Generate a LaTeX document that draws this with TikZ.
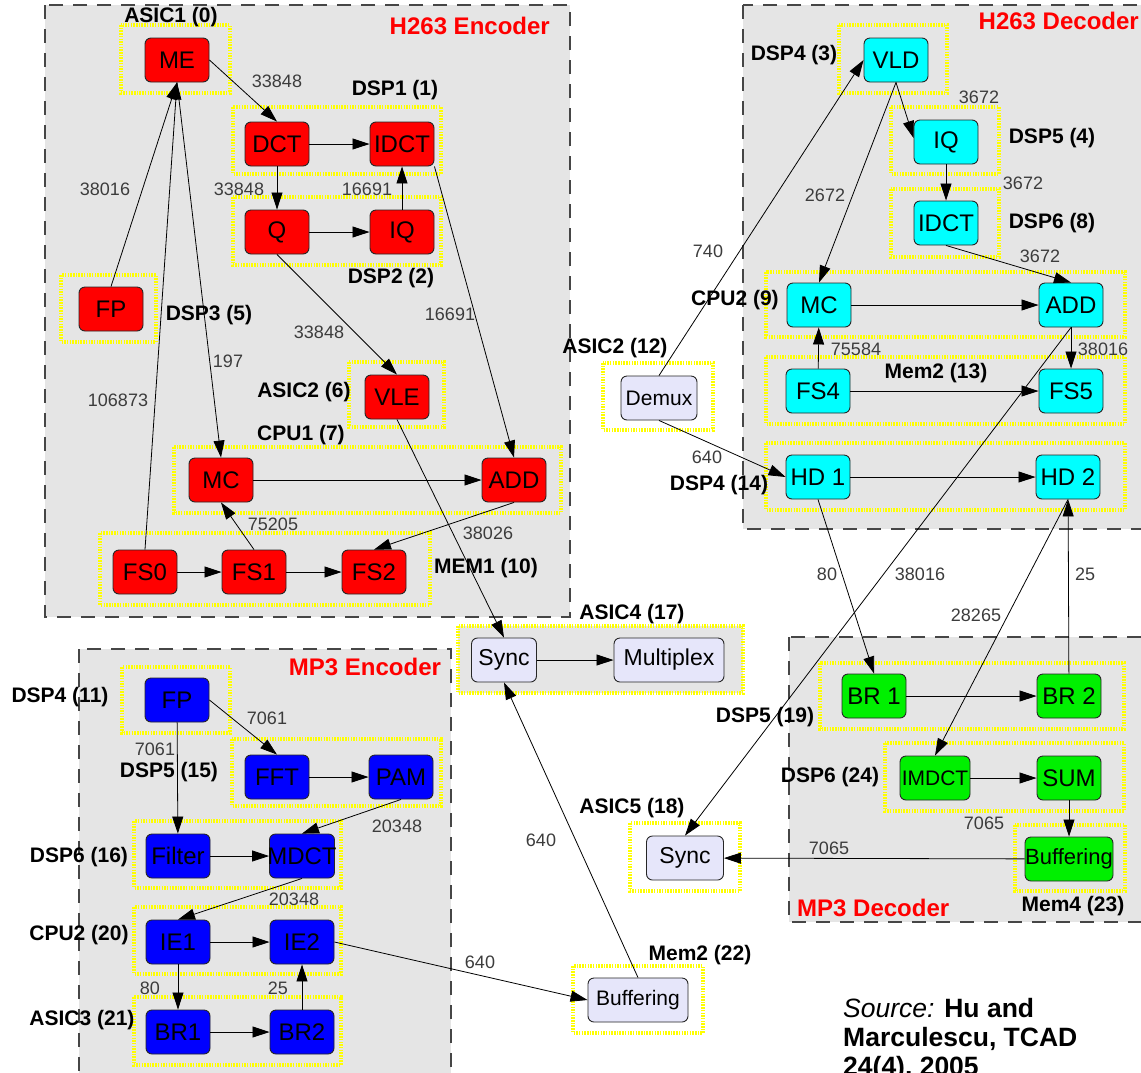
\documentclass[tikz,border=0pt]{standalone}
\usepackage{fontspec}
\setmainfont{Liberation Sans}
\usetikzlibrary{arrows.meta}
\definecolor{regiongray}{RGB}{229,229,229}
\definecolor{dashgray}{RGB}{70,70,70}
\definecolor{clusteryellow}{RGB}{255,255,0}
\definecolor{nodered}{RGB}{255,0,0}
\definecolor{nodecyan}{RGB}{0,255,255}
\definecolor{nodeblue}{RGB}{0,0,255}
\definecolor{nodegreen}{RGB}{0,240,0}
\definecolor{nodelav}{RGB}{230,230,250}
\definecolor{numgray}{RGB}{60,60,60}
\tikzset{
  region/.style={fill=regiongray, draw=dashgray, line width=1.5pt, dash pattern=on 14pt off 10pt},
  cluster/.style={draw=clusteryellow, line width=3.5pt, dash pattern=on 1.5pt off 1.2pt},
  task/.style={rectangle, rounded corners=6pt, draw=black!85, line width=0.9pt, minimum width=64pt, minimum height=44pt, inner sep=0pt, font=\fontsize{24}{26}\selectfont, text=black},
  redtask/.style={task, fill=nodered},
  cyantask/.style={task, fill=nodecyan},
  bluetask/.style={task, fill=nodeblue},
  greentask/.style={task, fill=nodegreen},
  lavtask/.style={task, fill=nodelav, font=\fontsize{22}{24}\selectfont},
  lbl/.style={font=\bfseries\fontsize{21}{23}\selectfont, inner sep=0pt},
  num/.style={font=\fontsize{18}{20}\selectfont, text=numgray, inner sep=0pt},
  ttl/.style={font=\bfseries\fontsize{24}{26}\selectfont, text=nodered, inner sep=0pt},
  flow/.style={draw=black, line width=0.8pt, -{Triangle[length=17pt,width=11pt]}},
  src/.style={font=\bfseries\fontsize{26.5}{29}\selectfont, inner sep=0pt, anchor=base west}
}
\begin{document}
\begin{tikzpicture}[x=1pt,y=-1pt]
\useasboundingbox (0,0) rectangle (1141,1072);
\clip (0,0) rectangle (1141,1072);
\fill[white] (0,0) rectangle (1141,1072);
% regions
\draw[region] (45,5) rectangle (570,617);
\draw[region] (743,5) rectangle (1160,529);
\draw[region] (79,649) rectangle (451,1080);
\draw[region] (789,637) rectangle (1160,922);
% clusters
\draw[cluster] (121,25) rectangle (230,93);
\draw[cluster] (233,107) rectangle (441,174);
\draw[cluster] (233,197) rectangle (441,265);
\draw[cluster] (61,275) rectangle (156,342);
\draw[cluster] (349,362) rectangle (444,427);
\draw[cluster] (174,447) rectangle (561,513);
\draw[cluster] (100,533) rectangle (430,605);
\draw[cluster] (839,25) rectangle (947,93);
\draw[cluster] (891,107) rectangle (999,174);
\draw[cluster] (891,189) rectangle (999,257);
\draw[cluster] (766,272) rectangle (1125,337);
\draw[cluster] (766,357) rectangle (1125,424);
\draw[cluster] (766,443) rectangle (1125,510);
\draw[cluster] (603,363) rectangle (713,430);
\draw[cluster, fill=regiongray] (458,626) rectangle (743,693);
\draw[cluster] (630,823) rectangle (740,891);
\draw[cluster] (573,966) rectangle (703,1033);
\draw[cluster] (820,663) rectangle (1124,729);
\draw[cluster] (885,743) rectangle (1124,811);
\draw[cluster] (1015,825) rectangle (1125,891);
\draw[cluster] (122,667) rectangle (230,733);
\draw[cluster] (232,739) rectangle (441,806);
\draw[cluster] (134,821) rectangle (341,888);
\draw[cluster] (134,907) rectangle (341,974);
\draw[cluster] (134,997) rectangle (341,1065);
% titles
\node[ttl, anchor=east] (tHE) at (550,26) {H263 Encoder};
\node[ttl, anchor=east] (tHD) at (1139,21) {H263 Decoder};
\node[ttl] (tME) at (365,667) {MP3 Encoder};
\node[ttl, anchor=west] (tMD) at (797,908) {MP3 Decoder};
% cluster labels
\node[lbl] (c0) at (171,17) {ASIC1 (0)};
\node[lbl] (c1) at (395,90) {DSP1 (1)};
\node[lbl] (c2) at (391,278) {DSP2 (2)};
\node[lbl] (c5) at (209,315) {DSP3 (5)};
\node[lbl] (c6) at (304,392) {ASIC2 (6)};
\node[lbl] (c7) at (301,435) {CPU1 (7)};
\node[lbl] (c10) at (486,568) {MEM1 (10)};
\node[lbl] (c3) at (794,55) {DSP4 (3)};
\node[lbl] (c4) at (1052,138) {DSP5 (4)};
\node[lbl] (c8) at (1052,223) {DSP6 (8)};
\node[lbl] (c9) at (735,300) {CPU2 (9)};
\node[lbl] (c13) at (936,373) {Mem2 (13)};
\node[lbl] (c14) at (719,485) {DSP4 (14)};
\node[lbl] (c12) at (615,348) {ASIC2 (12)};
\node[lbl] (c17) at (632,614) {ASIC4 (17)};
\node[lbl] (c18) at (632,808) {ASIC5 (18)};
\node[lbl] (c22) at (700,955) {Mem2 (22)};
\node[lbl] (c19) at (765,717) {DSP5 (19)};
\node[lbl] (c24) at (830,777) {DSP6 (24)};
\node[lbl] (c23) at (1073,906) {Mem4 (23)};
\node[lbl] (c11) at (60,697) {DSP4 (11)};
\node[lbl] (c15) at (169,772) {DSP5 (15)};
\node[lbl] (c16) at (79,857) {DSP6 (16)};
\node[lbl] (c20) at (79,935) {CPU2 (20)};
\node[lbl] (c21) at (82,1020) {ASIC3 (21)};
% H263 encoder nodes
\node[redtask] (ME) at (177,60) {ME};
\node[redtask] (DCT) at (277,144) {DCT};
\node[redtask] (IDCT) at (402,144) {IDCT};
\node[redtask] (Q) at (277,232) {Q};
\node[redtask] (IQ) at (402,232) {IQ};
\node[redtask] (FP) at (111,309) {FP};
\node[redtask] (VLE) at (397,397) {VLE};
\node[redtask] (MC) at (221,480) {MC};
\node[redtask] (ADD) at (514,480) {ADD};
\node[redtask] (FS0) at (145,572) {FS0};
\node[redtask] (FS1) at (254,572) {FS1};
\node[redtask] (FS2) at (374,572) {FS2};
% H263 decoder nodes
\node[cyantask] (VLD) at (896,60) {VLD};
\node[cyantask] (IQd) at (946,142) {IQ};
\node[cyantask] (IDCTd) at (946,223) {IDCT};
\node[cyantask] (MCd) at (819,305) {MC};
\node[cyantask] (ADDd) at (1071,305) {ADD};
\node[cyantask] (FS4) at (818,391) {FS4};
\node[cyantask] (FS5) at (1071,391) {FS5};
\node[cyantask] (HD1) at (818,477) {HD 1};
\node[cyantask] (HD2) at (1068,477) {HD 2};
% middle nodes
\node[lavtask, minimum width=76pt, font=\fontsize{21}{23}\selectfont] (Demux) at (659,398) {Demux};
\node[lavtask, minimum width=65pt, font=\fontsize{23}{25}\selectfont] (SyncA) at (504,660) {Sync};
\node[lavtask, minimum width=110pt, font=\fontsize{23}{25}\selectfont] (Mux) at (669,660) {Multiplex};
\node[lavtask, minimum width=77pt, font=\fontsize{23}{25}\selectfont] (SyncB) at (685,858) {Sync};
\node[lavtask, minimum width=100pt, font=\fontsize{21}{23}\selectfont] (BufA) at (638,1000) {Buffering};
% MP3 decoder nodes
\node[greentask] (BR1d) at (874,696) {BR 1};
\node[greentask] (BR2d) at (1069,696) {BR 2};
\node[greentask, minimum width=70pt, font=\fontsize{21}{23}\selectfont] (IMDCT) at (935,778) {\makebox[0pt]{IMDCT}};
\node[greentask] (SUM) at (1069,778) {SUM};
\node[greentask, minimum width=88pt, font=\fontsize{22}{24}\selectfont] (BufB) at (1069,859) {\makebox[0pt]{Buffering}};
% MP3 encoder nodes
\node[bluetask] (FPm) at (177,700) {FP};
\node[bluetask] (FFT) at (277,777) {FFT};
\node[bluetask] (PAM) at (401,777) {PAM};
\node[bluetask] (Filter) at (178,856) {Filter};
\node[bluetask, minimum width=65pt] (MDCT) at (302,856) {\makebox[0pt]{MDCT}};
\node[bluetask] (IE1) at (178,942) {IE1};
\node[bluetask] (IE2) at (302,942) {IE2};
\node[bluetask] (BR1m) at (178,1032) {BR1};
\node[bluetask] (BR2m) at (302,1032) {BR2};
% H263 encoder edges
\draw[flow] (ME.east) -- (DCT.north);
\draw[flow] (DCT) -- (IDCT);
\draw[flow] (DCT) -- (Q);
\draw[flow] (Q) -- (IQ);
\draw[flow] (IQ) -- (IDCT);
\draw[flow] (FP.north) -- (ME.south);
\draw[flow] (FS0.north) -- (ME.south);
\draw[flow] (ME.south) -- (MC.north);
\draw[flow] (Q.south) -- (VLE.north);
\draw[flow] (IDCT.south east) -- (ADD.north);
\draw[flow] (MC) -- (ADD);
\draw[flow] (ADD.south) -- (FS2.north);
\draw[flow] (FS1.north) -- (MC.south);
\draw[flow] (FS0) -- (FS1);
\draw[flow] (FS1) -- (FS2);
\draw[flow] (VLE.south) -- (SyncA.north);
% H263 decoder edges
\draw[flow] (VLD.south) -- ([yshift=4pt]IQd.west);
\draw[flow] (IQd) -- (IDCTd);
\draw[flow] (IDCTd.south) -- (ADDd.north);
\draw[flow] (VLD.south) -- (MCd.north);
\draw[flow] (Demux.north) -- (VLD.west);
\draw[flow] (MCd) -- (ADDd);
\draw[flow] (FS4) -- (MCd);
\draw[flow] (ADDd) -- (FS5);
\draw[flow] (FS4) -- (FS5);
\draw[flow] (Demux.south) -- (HD1.west);
\draw[flow] (HD1) -- (HD2);
\draw[flow] (HD1.south) -- (BR1d.north);
\draw[flow] (ADDd.south) -- (SyncB.north);
\draw[flow] (HD2.south) -- (IMDCT.north);
% MP3 decoder edges
\draw[flow] (BR2d) -- (HD2);
\draw[flow] (BR1d) -- (BR2d);
\draw[flow] (IMDCT) -- (SUM);
\draw[flow] (SUM) -- (BufB);
\draw[flow] (BufB) -- (SyncB);
% middle edges
\draw[flow] (BufA.north) -- (SyncA.south);
\draw[flow] (IE2.east) -- (BufA.west);
\draw[flow] (SyncA) -- (Mux);
% MP3 encoder edges
\draw[flow] (FPm.east) -- (FFT.north);
\draw[flow] (FPm) -- (Filter);
\draw[flow] (FFT) -- (PAM);
\draw[flow] (PAM.south) -- (MDCT.north);
\draw[flow] (Filter) -- (MDCT);
\draw[flow] (MDCT.south) -- (IE1.north);
\draw[flow] (IE1) -- (IE2);
\draw[flow] (IE1) -- (BR1m);
\draw[flow] (BR1m) -- (BR2m);
\draw[flow] (BR2m) -- (IE2);
% edge weights
\node[num] (w1) at (277,81) {33848};
\node[num] (w2) at (239,189) {33848};
\node[num] (w3) at (367,189) {16691};
\node[num] (w4) at (105,189) {38016};
\node[num] (w5) at (319,332) {33848};
\node[num] (w6) at (450,314) {16691};
\node[num] (w7) at (228,361) {197};
\node[num] (w8) at (118,400) {106873};
\node[num] (w9) at (273,524) {75205};
\node[num] (w10) at (488,533) {38026};
\node[num] (w11) at (979,97) {3672};
\node[num] (w12) at (1023,183) {3672};
\node[num] (w13) at (825,195) {2672};
\node[num] (w14) at (708,251) {740};
\node[num] (w15) at (1040,256) {3672};
\node[num] (w16) at (856,349) {75584};
\node[num] (w17) at (1103,349) {38016};
\node[num] (w18) at (707,457) {640};
\node[num] (w19) at (827,574) {80};
\node[num] (w20) at (920,574) {38016};
\node[num] (w21) at (1085,574) {25};
\node[num] (w22) at (976,615) {28265};
\node[num] (w23) at (984,823) {7065};
\node[num] (w24) at (829,848) {7065};
\node[num] (w25) at (541,840) {640};
\node[num] (w26) at (480,962) {640};
\node[num] (w27) at (267,718) {7061};
\node[num] (w28) at (155,749) {7061};
\node[num] (w29) at (397,826) {20348};
\node[num] (w30) at (294,899) {20348};
\node[num] (w31) at (150,988) {80};
\node[num] (w32) at (278,988) {25};
% source
\node[src] (s1) at (843,1017) {\mdseries\itshape Source:\upshape\bfseries{} Hu and};
\node[src] (s2) at (843,1046) {Marculescu, TCAD};
\node[src] (s3) at (843,1075) {24(4), 2005};
\end{tikzpicture}
\end{document}
